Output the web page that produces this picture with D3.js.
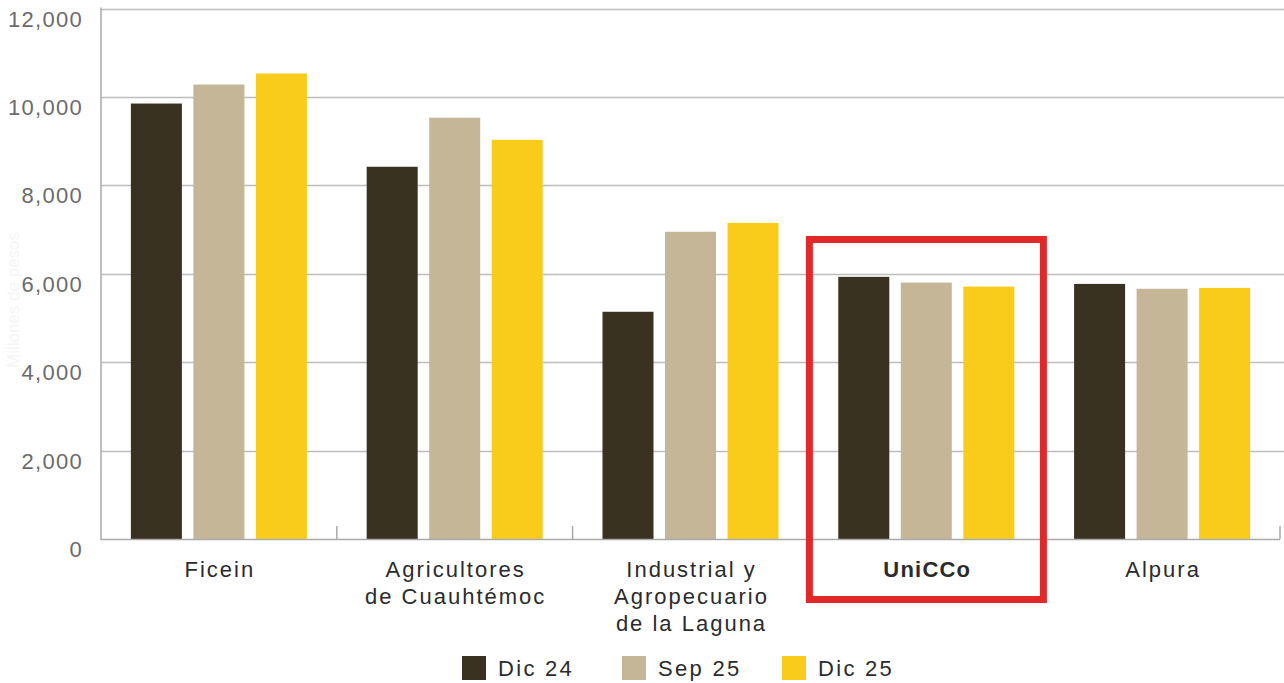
<!DOCTYPE html>
<html><head><meta charset="utf-8">
<script src="https://cdn.jsdelivr.net/npm/d3@7"></script>
<style>
html,body{margin:0;padding:0;background:#fff;}
svg{display:block;font-family:"Liberation Sans", Arial, sans-serif;}
</style></head>
<body><svg id="c" width="1284" height="683"></svg>
<script>
const categories = [["Ficein"],["Agricultores","de Cuauhtémoc"],["Industrial y","Agropecuario","de la Laguna"],["UniCCo"],["Alpura"]];
const seriesNames = ["Dic 24","Sep 25","Dic 25"];
const dic24 = [9850, 8420, 5140, 5930, 5770];
const sep25 = [10280, 9530, 6950, 5800, 5660];
const dic25 = [10530, 9030, 7150, 5710, 5680];
const yTicks = [0,2000,4000,6000,8000,10000,12000];
const colors = ["#393221","#c5b697","#f9cc1b"];
const highlight = "UniCCo";

(function(){
const series = [dic24, sep25, dic25];
const svg = d3.select("#c");
const pLeft = 101, pRight = 1280, pTop = 8.5, pBottom = 539;
const keys = categories.map(c => c.join(" "));
const x = d3.scaleBand().domain(keys).range([pLeft, pRight]).paddingInner(0).paddingOuter(0);
const xs = d3.scaleBand().domain(seriesNames).range([0, x.bandwidth()]).paddingInner(0.184).paddingOuter(0.478);
const y = d3.scaleLinear().domain([0,12000]).range([pBottom, pTop]);

svg.append("text").attr("transform","translate(19,300) rotate(-90)").attr("text-anchor","middle")
  .attr("font-size",17).attr("fill","#f5f5f5").text("Millones de pesos");

svg.append("g").selectAll("line").data(yTicks.filter(d=>d>0)).join("line")
  .attr("x1",pLeft).attr("x2",1284).attr("y1",d=>Math.round(y(d))+0.5).attr("y2",d=>Math.round(y(d))+0.5)
  .attr("stroke","#bdbdbd").attr("stroke-width",1.5);

svg.append("g").selectAll("text").data(yTicks).join("text")
  .attr("x",83).attr("y",d=>y(d)+18).attr("text-anchor","end")
  .attr("font-size",22).attr("letter-spacing",1.3).attr("fill","#6b6b6b").text(d=>d3.format(",")(d));

const g = svg.append("g");
keys.forEach((k,i)=>{
  seriesNames.forEach((s,j)=>{
    g.append("rect").attr("x",x(k)+xs(s)).attr("width",xs.bandwidth())
      .attr("y",y(series[j][i])).attr("height",pBottom - y(series[j][i]))
      .attr("fill",colors[j]);
  });
});

svg.append("line").attr("x1",pLeft).attr("x2",pLeft).attr("y1",pTop-1).attr("y2",pBottom+1).attr("stroke","#aaaaaa").attr("stroke-width",1.5);
svg.append("line").attr("x1",pLeft).attr("x2",pRight).attr("y1",pBottom+0.5).attr("y2",pBottom+0.5).attr("stroke","#aaaaaa").attr("stroke-width",1.5);
const bounds = keys.slice(1).map(k=>x(k)).concat([pRight]);
svg.append("g").selectAll("line").data(bounds).join("line")
  .attr("x1",d=>d).attr("x2",d=>d).attr("y1",pBottom-13).attr("y2",pBottom).attr("stroke","#aaaaaa").attr("stroke-width",1.5);

categories.forEach((lines,i)=>{
  const cx = x(keys[i]) + x.bandwidth()/2 + 1;
  const bold = keys[i]===highlight;
  const t = svg.append("text").attr("text-anchor","middle").attr("font-size",22).attr("fill","#2b2b2b")
    .attr("letter-spacing", bold ? 1.2 : 2).attr("font-weight", bold ? "bold":"normal");
  lines.forEach((ln,li)=>{
    t.append("tspan").attr("x",cx).attr("y",577 + li*27).text(ln);
  });
});

const hk = keys.indexOf(highlight);
const hx = x(keys[hk]);
svg.append("rect").attr("x",hx+1).attr("y",239.5).attr("width",234).attr("height",360)
  .attr("fill","none").attr("stroke","#e3282a").attr("stroke-width",7);

const legX = [462, 622, 782];
seriesNames.forEach((s,j)=>{
  svg.append("rect").attr("x",legX[j]).attr("y",656).attr("width",24).attr("height",24).attr("fill",colors[j]);
  svg.append("text").attr("x",legX[j]+36).attr("y",676).attr("font-size",22).attr("letter-spacing",2.3)
    .attr("fill","#2b2b2b").text(s);
});
})();
</script></body></html>
